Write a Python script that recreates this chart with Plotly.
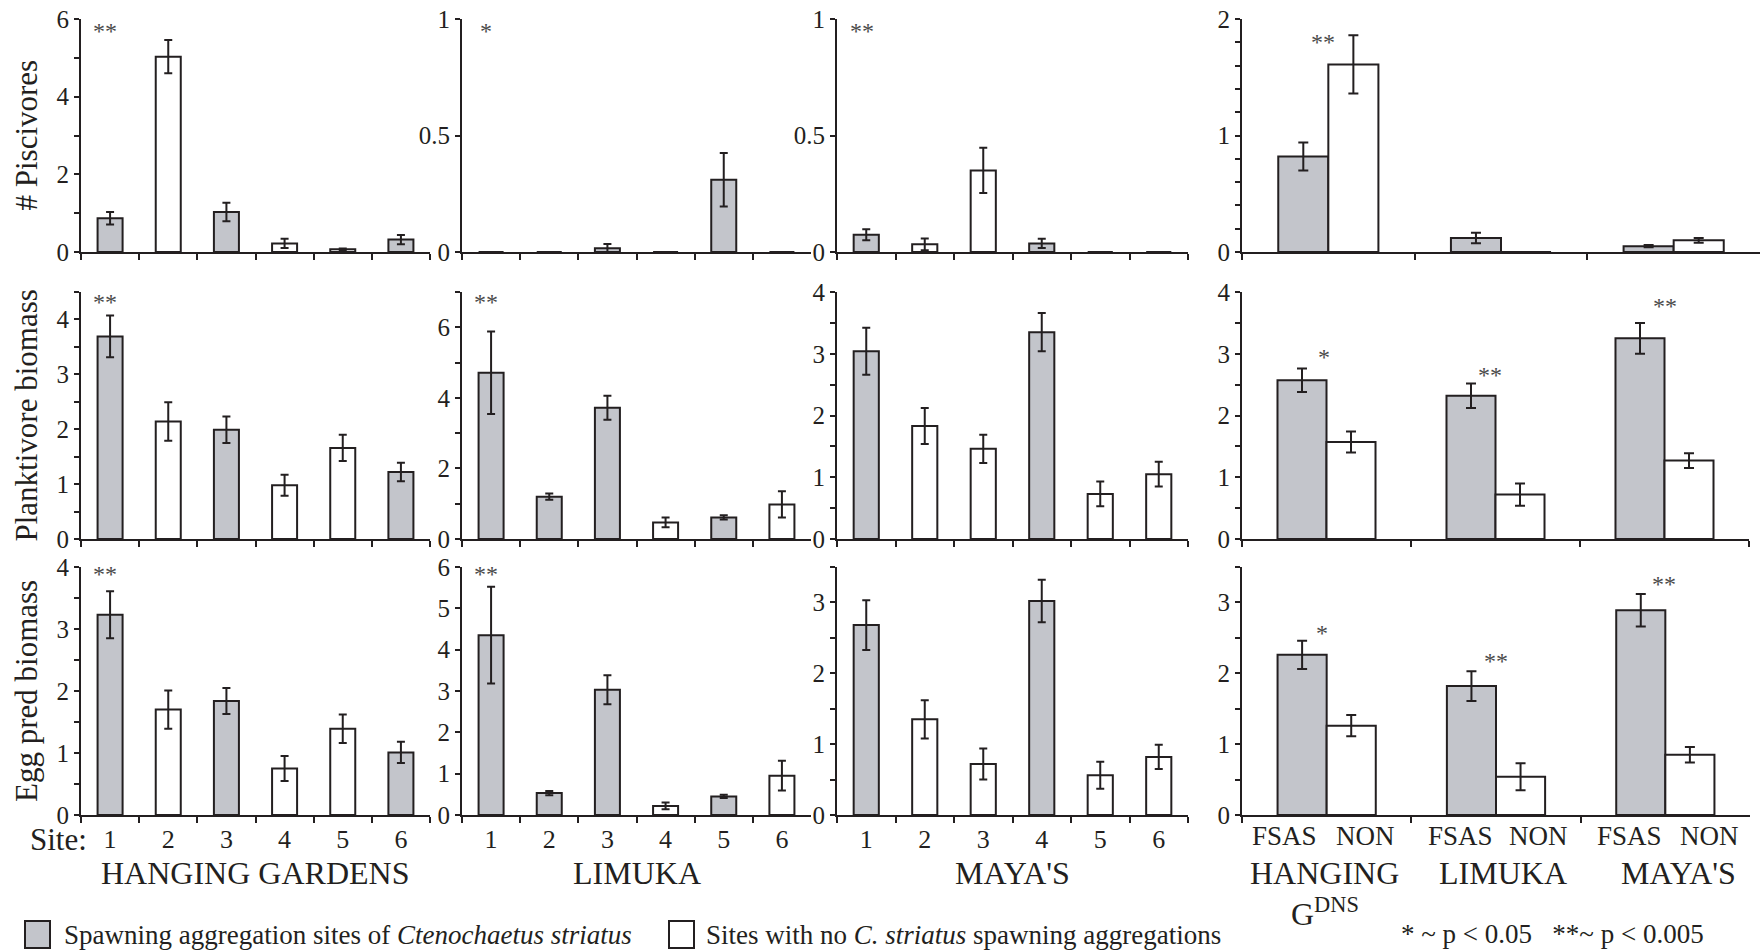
import plotly.graph_objects as go

W, H = 1762, 952
FONT = "Liberation Serif"
INK = "#231f20"
GRAY = "#c3c5cb"
STAR = "#4a4a4a"

# ---------------- data ----------------
sites = ["1", "2", "3", "4", "5", "6"]
reefs = ["HANGING GARDENS", "LIMUKA", "MAYA'S"]
groups = ["HG", "LIM", "MAY"]

# which sites are C. striatus spawning aggregation sites (FSAS)
hg_fsas = [True, False, True, False, False, True]
lim_fsas = [True, True, True, False, True, False]
may_fsas = [True, False, False, True, False, False]

# Row 1: # Piscivores
hg_pisc = [0.87, 5.03, 1.03, 0.22, 0.07, 0.32]
hg_pisc_se = [0.16, 0.43, 0.24, 0.12, 0.02, 0.12]
lim_pisc = [0, 0, 0.016, 0, 0.31, 0]
lim_pisc_se = [0, 0, 0.018, 0, 0.115, 0]
may_pisc = [0.074, 0.033, 0.35, 0.037, 0, 0]
may_pisc_se = [0.024, 0.025, 0.097, 0.02, 0, 0]

# Row 2: Planktivore biomass
hg_plank = [3.69, 2.14, 1.99, 0.98, 1.66, 1.22]
hg_plank_se = [0.38, 0.35, 0.24, 0.19, 0.24, 0.17]
lim_plank = [4.71, 1.20, 3.72, 0.47, 0.61, 0.98]
lim_plank_se = [1.17, 0.09, 0.34, 0.14, 0.06, 0.37]
may_plank = [3.04, 1.83, 1.46, 3.35, 0.73, 1.05]
may_plank_se = [0.38, 0.29, 0.23, 0.31, 0.20, 0.20]

# Row 3: Egg predator biomass
hg_egg = [3.23, 1.70, 1.84, 0.75, 1.39, 1.01]
hg_egg_se = [0.38, 0.31, 0.21, 0.20, 0.23, 0.17]
lim_egg = [4.35, 0.53, 3.03, 0.22, 0.45, 0.95]
lim_egg_se = [1.17, 0.05, 0.35, 0.08, 0.04, 0.36]
may_egg = [2.68, 1.35, 0.72, 3.02, 0.56, 0.82]
may_egg_se = [0.35, 0.27, 0.22, 0.30, 0.19, 0.17]

# Column 4: FSAS vs NON pooled per reef
fsas_pisc = [0.82, 0.12, 0.05]
fsas_pisc_se = [0.12, 0.045, 0.01]
non_pisc = [1.61, 0, 0.10]
non_pisc_se = [0.25, 0, 0.02]
fsas_plank = [2.57, 2.32, 3.25]
fsas_plank_se = [0.19, 0.20, 0.25]
non_plank = [1.57, 0.72, 1.27]
non_plank_se = [0.17, 0.18, 0.12]
fsas_egg = [2.26, 1.82, 2.89]
fsas_egg_se = [0.20, 0.21, 0.23]
non_egg = [1.26, 0.54, 0.85]
non_egg_se = [0.15, 0.19, 0.11]

row_titles = ["# Piscivores", "Planktivore biomass", "Egg pred biomass"]

# ---------------- layout geometry (pixels) ----------------
col_x = [(81, 430), (462, 811), (837, 1188)]
p4_x = [(1242, 1760), (1242, 1749), (1242, 1750)]
row_y = [(19, 252), (292, 539), (567, 815)]

# (top of range, major dtick, minor dtick)
yspec = {
    (0, 0): (6, 2, 1), (0, 1): (1, 0.5, None), (0, 2): (1, 0.5, None), (0, 3): (2, 1, 0.2),
    (1, 0): (4.5, 1, 0.5), (1, 1): (7, 2, 1), (1, 2): (4, 1, 0.5), (1, 3): (4, 1, 0.5),
    (2, 0): (4, 1, 0.5), (2, 1): (6, 1, None), (2, 2): (3.5, 1, 0.5), (2, 3): (3.5, 1, 0.5),
}


def px(x):
    return x / W


def py(y):
    return 1 - y / H


def ax_id(letter, k):
    return letter if k == 1 else f"{letter}{k}"


fig = go.Figure()
layout = {}

site_data = [
    [(hg_pisc, hg_pisc_se, hg_fsas), (lim_pisc, lim_pisc_se, lim_fsas), (may_pisc, may_pisc_se, may_fsas)],
    [(hg_plank, hg_plank_se, hg_fsas), (lim_plank, lim_plank_se, lim_fsas), (may_plank, may_plank_se, may_fsas)],
    [(hg_egg, hg_egg_se, hg_fsas), (lim_egg, lim_egg_se, lim_fsas), (may_egg, may_egg_se, may_fsas)],
]
group_data = [
    (fsas_pisc, fsas_pisc_se, non_pisc, non_pisc_se),
    (fsas_plank, fsas_plank_se, non_plank, non_plank_se),
    (fsas_egg, fsas_egg_se, non_egg, non_egg_se),
]

bar_line = dict(color=INK, width=2)


def err(arr, w):
    return dict(type="data", array=arr, color=INK, thickness=2, width=w, visible=True)


for r in range(3):
    for c in range(4):
        k = r * 4 + c + 1
        xa, ya = ax_id("x", k), ax_id("y", k)
        if c < 3:
            x0, x1 = col_x[c]
        else:
            x0, x1 = p4_x[r]
        y0, y1 = row_y[r]
        top, dt, mdt = yspec[(r, c)]
        yax = dict(
            domain=[py(y1), py(y0)], anchor=xa, range=[0, top], dtick=dt, tick0=0,
            showline=True, linecolor=INK, linewidth=2, ticks="outside", ticklen=5,
            tickwidth=1.5, tickcolor=INK, showgrid=False, zeroline=False, automargin=False,
            tickfont=dict(family=FONT, size=25, color=INK),
        )
        if mdt:
            yax["minor"] = dict(dtick=mdt, tick0=0, ticks="outside", ticklen=5,
                                tickwidth=1.5, tickcolor=INK, showgrid=False)
        cats = sites if c < 3 else groups
        xax = dict(
            domain=[px(x0), px(x1)], anchor=ya, type="category",
            categoryorder="array", categoryarray=cats, range=[-0.5, len(cats) - 0.5],
            showline=True, linecolor=INK, linewidth=2, ticks="outside", ticklen=6,
            tickwidth=1.5, tickcolor=INK, tickson="boundaries", showgrid=False,
            showticklabels=(r == 2 and c < 3), automargin=False,
            tickfont=dict(family=FONT, size=26, color=INK),
        )
        layout["xaxis" if k == 1 else f"xaxis{k}"] = xax
        layout["yaxis" if k == 1 else f"yaxis{k}"] = yax

        if c < 3:
            vals, ses, fl = site_data[r][c]
            for flag, colr in ((True, GRAY), (False, "white")):
                xs = [s for s, f in zip(sites, fl) if f == flag]
                ys = [v for v, f in zip(vals, fl) if f == flag]
                es = [e for e, f in zip(ses, fl) if f == flag]
                fig.add_trace(go.Bar(
                    x=xs, y=ys, width=0.43, xaxis=xa, yaxis=ya, showlegend=False,
                    marker=dict(color=colr, line=bar_line), error_y=err(es, 4)))
        else:
            fv, fe, nv, ne = group_data[r]
            fig.add_trace(go.Bar(
                x=groups, y=fv, width=0.29, offset=-0.29, xaxis=xa, yaxis=ya, showlegend=False,
                marker=dict(color=GRAY, line=bar_line), error_y=err(fe, 5)))
            fig.add_trace(go.Bar(
                x=groups, y=nv, width=0.29, offset=0, xaxis=xa, yaxis=ya, showlegend=False,
                marker=dict(color="white", line=bar_line), error_y=err(ne, 5)))

ann = []


def text(x, y, t, size, xref="paper", yref="paper", xanchor="center", yanchor="middle",
         color=INK, angle=0):
    ann.append(dict(x=x, y=y, text=t, xref=xref, yref=yref, showarrow=False,
                    xanchor=xanchor, yanchor=yanchor, textangle=angle,
                    font=dict(family=FONT, size=size, color=color)))


# row titles
for r, t in enumerate(row_titles):
    yc = (row_y[r][0] + row_y[r][1]) / 2
    text(px(26), py(yc), t, 31, angle=-90)

# significance stars in site panels (x in axis-domain fraction, y in page pixels)
star_rows_y = [27, 298, 570]
site_stars = [(1, 0, "**"), (2, 0, "*"), (3, 0, "**"), (5, 1, "**"), (6, 1, "**"), (9, 2, "**"), (10, 2, "**")]
for k, r, s in site_stars:
    text(0.07, py(star_rows_y[r] + 4), s, 24, xref=ax_id("x", k) + " domain", color=STAR)

# significance stars in pooled panels (data coordinates, category index)
group_stars = [
    (4, -0.03, 1.80, "**"),
    (8, -0.015, 2.94, "*"), (8, 0.97, 2.66, "**"), (8, 2.0, 3.77, "**"),
    (12, -0.03, 2.57, "*"), (12, 1.0, 2.18, "**"), (12, 1.99, 3.26, "**"),
]
for k, xi, yv, s in group_stars:
    text(xi, yv, s, 24, xref=ax_id("x", k), yref=ax_id("y", k), color=STAR)

# Site: label
text(px(58), py(839), "Site:", 31)

# reef names under site panels
for c, name in enumerate(reefs):
    text(px((col_x[c][0] + col_x[c][1]) / 2), py(873), name, 32)

# FSAS / NON labels under pooled panel (offsets in category units)
fsas_lab_dx = [-0.25, -0.21, -0.21]
non_lab_dx = [0.23, 0.25, 0.26]
for i in range(3):
    text(i + fsas_lab_dx[i], py(836), "FSAS", 27, xref="x12")
    text(i + non_lab_dx[i], py(836), "NON", 27, xref="x12")
text(-0.01, py(873), "HANGING", 32, xref="x12")
text(-0.01, py(912), "G<sup>DNS</sup>", 32, xref="x12")
text(1.04, py(873), "LIMUKA", 32, xref="x12")
text(2.08, py(873), "MAYA'S", 32, xref="x12")

# p-value key
text(px(1552), py(934), "* ~ p &lt; 0.05   **~ p &lt; 0.005", 27)

# custom legend
shapes = [
    dict(type="rect", xref="paper", yref="paper", x0=px(25), x1=px(50), y0=py(948), y1=py(921),
         fillcolor=GRAY, line=dict(color=INK, width=2)),
    dict(type="rect", xref="paper", yref="paper", x0=px(669), x1=px(694), y0=py(948), y1=py(921),
         fillcolor="white", line=dict(color=INK, width=2)),
]
text(px(62), py(935), "Spawning aggregation sites of <i>Ctenochaetus striatus</i>", 27, xanchor="left")
text(px(704), py(935), "Sites with no <i>C. striatus</i> spawning aggregations", 27, xanchor="left")

fig.update_layout(
    width=W, height=H, autosize=False,
    margin=dict(l=0, r=0, t=0, b=0, pad=0),
    paper_bgcolor="white", plot_bgcolor="white",
    barmode="overlay", showlegend=False,
    annotations=ann, shapes=shapes,
    font=dict(family=FONT, color=INK),
    **layout,
)

fig.write_html("out.html", post_script="document.body.style.margin='0';")
